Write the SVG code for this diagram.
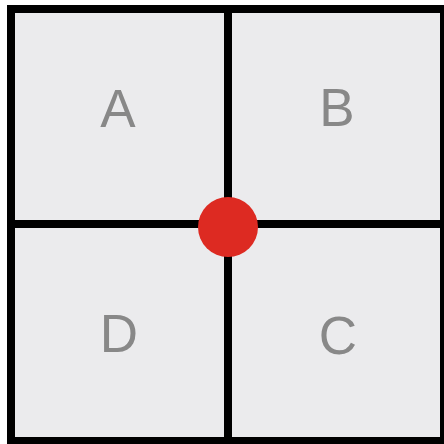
<svg xmlns="http://www.w3.org/2000/svg" width="444" height="444" viewBox="0 0 444 444">
<style>
.cell{fill:#ebebed;stroke:none}
.lbl{font-family:"Liberation Sans",Arial,sans-serif;font-size:53px;fill:#888888;text-anchor:middle}
.line{stroke:#000;stroke-width:8;fill:none}
</style>
<rect x="0" y="0" width="444" height="444" fill="#ffffff"/>
<g id="A"><rect class="cell" x="11" y="9" width="217" height="215"/><text class="lbl" x="118" y="127">A</text></g>
<g id="B"><rect class="cell" x="228" y="9" width="216" height="215"/><text class="lbl" x="337" y="126">B</text></g>
<g id="D"><rect class="cell" x="11" y="224" width="217" height="217"/><text class="lbl" x="119" y="352">D</text></g>
<g id="C"><rect class="cell" x="228" y="224" width="216" height="217"/><text class="lbl" x="338" y="354">C</text></g>
<g id="connectors">
<rect class="line" x="11" y="9" width="433" height="432"/>
<line class="line" x1="228" y1="9" x2="228" y2="441"/>
<line class="line" x1="11" y1="224" x2="444" y2="224"/>
</g>
<g id="center"><circle cx="228" cy="227" r="30" fill="#dd2a22"/></g>
</svg>
